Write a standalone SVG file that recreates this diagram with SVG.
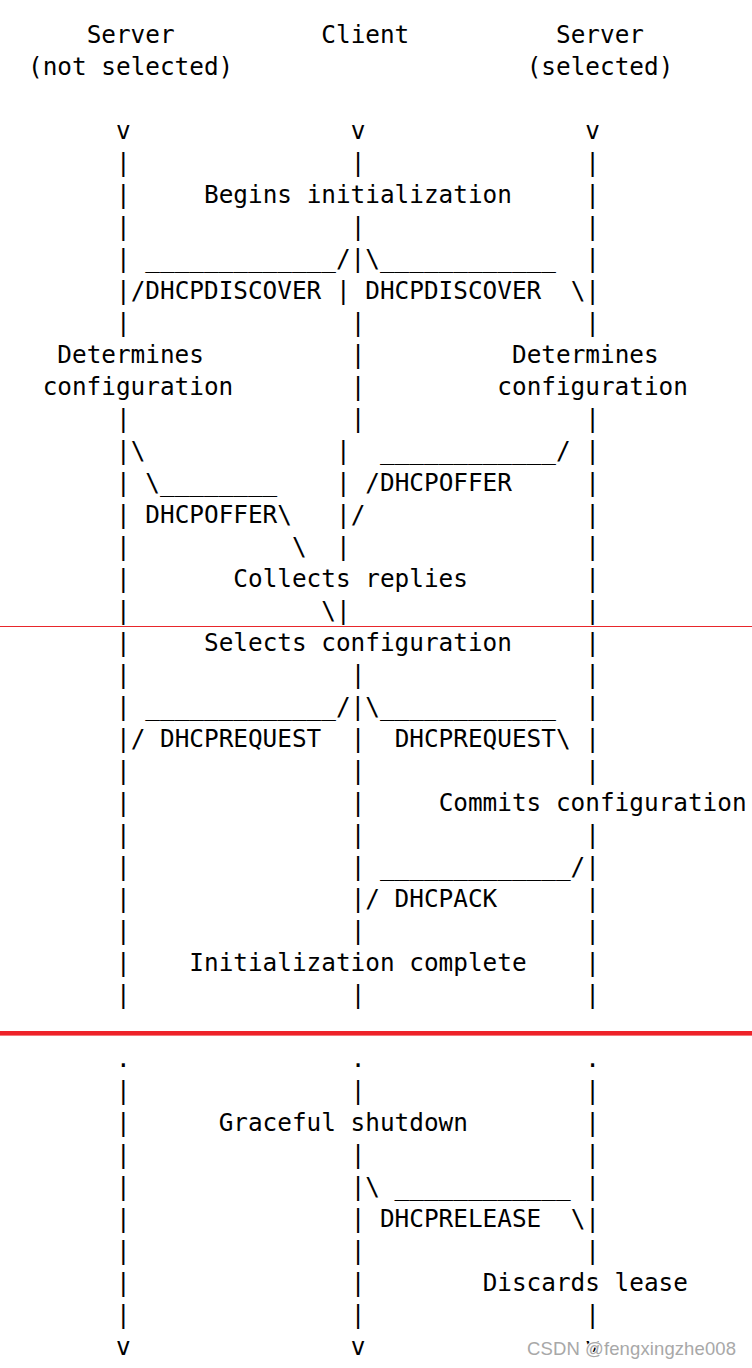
<svg xmlns="http://www.w3.org/2000/svg" width="752" height="1368" viewBox="0 0 752 1368">
<style>
.t{font-family:"DejaVu Sans Mono","Liberation Mono",monospace;font-size:24.36px;fill:#000}
.wm{font-family:"Liberation Sans",Arial,sans-serif;font-size:18.5px;fill:#a8a8a8}
</style>
<rect width="752" height="1368" fill="#fff"/>
<g id="headers" class="t">
<text y="43.3"><tspan x="86.64">Server</tspan><tspan x="321.3">Client</tspan><tspan x="555.98">Server</tspan></text>
<text y="75.3"><tspan x="27.97">(not selected)</tspan><tspan x="526.65">(selected)</tspan></text>
</g>
<g id="ascii" class="t">
<text y="139.3"><tspan x="115.97">v</tspan><tspan x="350.64">v</tspan><tspan x="585.31">v</tspan></text>
<text y="171.3"><tspan x="115.97">|</tspan><tspan x="350.64">|</tspan><tspan x="585.31">|</tspan></text>
<text y="203.3"><tspan x="115.97">|</tspan><tspan x="203.97">Begins initialization</tspan><tspan x="585.31">|</tspan></text>
<text y="235.3"><tspan x="115.97">|</tspan><tspan x="350.64">|</tspan><tspan x="585.31">|</tspan></text>
<text y="267.3"><tspan x="115.97">|</tspan><tspan x="145.3">_____________/|\____________</tspan><tspan x="585.31">|</tspan></text>
<text y="299.3"><tspan x="115.97">|/DHCPDISCOVER | DHCPDISCOVER</tspan><tspan x="570.65">\|</tspan></text>
<text y="331.3"><tspan x="115.97">|</tspan><tspan x="350.64">|</tspan><tspan x="585.31">|</tspan></text>
<text y="363.3"><tspan x="57.3">Determines</tspan><tspan x="350.64">|</tspan><tspan x="511.98">Determines</tspan></text>
<text y="395.3"><tspan x="42.63">configuration</tspan><tspan x="350.64">|</tspan><tspan x="497.31">configuration</tspan></text>
<text y="427.3"><tspan x="115.97">|</tspan><tspan x="350.64">|</tspan><tspan x="585.31">|</tspan></text>
<text y="459.3"><tspan x="115.97">|\</tspan><tspan x="335.97">|</tspan><tspan x="379.98">____________/</tspan><tspan x="585.31">|</tspan></text>
<text y="491.3"><tspan x="115.97">| \________</tspan><tspan x="335.97">| /DHCPOFFER</tspan><tspan x="585.31">|</tspan></text>
<text y="523.3"><tspan x="115.97">| DHCPOFFER\</tspan><tspan x="335.97">|/</tspan><tspan x="585.31">|</tspan></text>
<text y="555.3"><tspan x="115.97">|</tspan><tspan x="291.97">\</tspan><tspan x="335.97">|</tspan><tspan x="585.31">|</tspan></text>
<text y="587.3"><tspan x="115.97">|</tspan><tspan x="233.3">Collects replies</tspan><tspan x="585.31">|</tspan></text>
<text y="619.3"><tspan x="115.97">|</tspan><tspan x="321.3">\|</tspan><tspan x="585.31">|</tspan></text>
<text y="651.3"><tspan x="115.97">|</tspan><tspan x="203.97">Selects configuration</tspan><tspan x="585.31">|</tspan></text>
<text y="683.3"><tspan x="115.97">|</tspan><tspan x="350.64">|</tspan><tspan x="585.31">|</tspan></text>
<text y="715.3"><tspan x="115.97">|</tspan><tspan x="145.3">_____________/|\____________</tspan><tspan x="585.31">|</tspan></text>
<text y="747.3"><tspan x="115.97">|/ DHCPREQUEST</tspan><tspan x="350.64">|</tspan><tspan x="394.64">DHCPREQUEST\</tspan><tspan x="585.31">|</tspan></text>
<text y="779.3"><tspan x="115.97">|</tspan><tspan x="350.64">|</tspan><tspan x="585.31">|</tspan></text>
<text y="811.3"><tspan x="115.97">|</tspan><tspan x="350.64">|</tspan><tspan x="438.64">Commits configuration</tspan></text>
<text y="843.3"><tspan x="115.97">|</tspan><tspan x="350.64">|</tspan><tspan x="585.31">|</tspan></text>
<text y="875.3"><tspan x="115.97">|</tspan><tspan x="350.64">| _____________/|</tspan></text>
<text y="907.3"><tspan x="115.97">|</tspan><tspan x="350.64">|/ DHCPACK</tspan><tspan x="585.31">|</tspan></text>
<text y="939.3"><tspan x="115.97">|</tspan><tspan x="350.64">|</tspan><tspan x="585.31">|</tspan></text>
<text y="971.3"><tspan x="115.97">|</tspan><tspan x="189.3">Initialization complete</tspan><tspan x="585.31">|</tspan></text>
<text y="1003.3"><tspan x="115.97">|</tspan><tspan x="350.64">|</tspan><tspan x="585.31">|</tspan></text>
<text y="1067.3"><tspan x="115.97">.</tspan><tspan x="350.64">.</tspan><tspan x="585.31">.</tspan></text>
<text y="1099.3"><tspan x="115.97">|</tspan><tspan x="350.64">|</tspan><tspan x="585.31">|</tspan></text>
<text y="1131.3"><tspan x="115.97">|</tspan><tspan x="218.64">Graceful shutdown</tspan><tspan x="585.31">|</tspan></text>
<text y="1163.3"><tspan x="115.97">|</tspan><tspan x="350.64">|</tspan><tspan x="585.31">|</tspan></text>
<text y="1195.3"><tspan x="115.97">|</tspan><tspan x="350.64">|\ ____________</tspan><tspan x="585.31">|</tspan></text>
<text y="1227.3"><tspan x="115.97">|</tspan><tspan x="350.64">| DHCPRELEASE</tspan><tspan x="570.65">\|</tspan></text>
<text y="1259.3"><tspan x="115.97">|</tspan><tspan x="350.64">|</tspan><tspan x="585.31">|</tspan></text>
<text y="1291.3"><tspan x="115.97">|</tspan><tspan x="350.64">|</tspan><tspan x="482.64">Discards lease</tspan></text>
<text y="1323.3"><tspan x="115.97">|</tspan><tspan x="350.64">|</tspan><tspan x="585.31">|</tspan></text>
<text y="1355.3"><tspan x="115.97">v</tspan><tspan x="350.64">v</tspan><tspan x="585.31">v</tspan></text>
</g>
<g id="separators">
<rect x="0" y="626" width="752" height="1" fill="#e8262b"/>
<rect x="0" y="1031" width="752" height="4.6" fill="#ee2229"/>
</g>
<g id="watermark">
<text class="wm" x="527" y="1355" textLength="209" stroke="#fff" stroke-width="2" paint-order="stroke">CSDN @fengxingzhe008</text>
</g>
</svg>
